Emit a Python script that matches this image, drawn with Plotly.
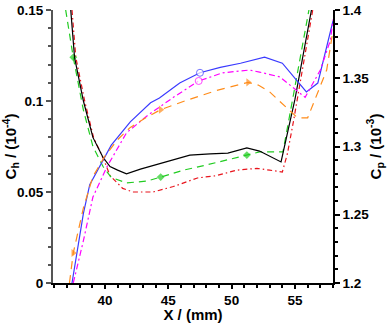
import plotly.graph_objects as go

# Ch (left axis, 10^-4)
x_black = [37.3, 37.6, 38.3, 39.05, 39.85, 40.4, 41.0, 41.7, 42.8, 44.3, 45.5, 46.7, 48.3, 49.7, 51.2, 52.2, 53.9, 55.0, 56.3]
ch_black = [0.150, 0.124, 0.100, 0.080, 0.069, 0.064, 0.062, 0.060, 0.0626, 0.0654, 0.068, 0.0703, 0.0709, 0.0714, 0.0742, 0.0725, 0.0665, 0.101, 0.150]

x_red = [37.4, 37.7, 38.4, 39.1, 39.9, 40.4, 41.4, 42.2, 43.8, 44.3, 45.4, 47.3, 48.8, 50.4, 52.0, 53.0, 54.0, 54.4, 54.9, 56.4]
ch_red = [0.150, 0.124, 0.100, 0.080, 0.068, 0.059, 0.052, 0.050, 0.050, 0.051, 0.053, 0.0577, 0.059, 0.062, 0.063, 0.062, 0.061, 0.071, 0.0896, 0.150]

x_green = [36.9, 37.5, 38.3, 39.05, 39.85, 40.5, 41.7, 43.3, 44.4, 46.2, 48.1, 49.9, 51.2, 52.2, 52.8, 54.05, 55.0, 56.1]
ch_green = [0.150, 0.124, 0.095, 0.075, 0.064, 0.058, 0.055, 0.056, 0.0582, 0.062, 0.065, 0.068, 0.0703, 0.072, 0.072, 0.072, 0.108, 0.150]
green_marks = [1, 8, 12]

# Cp (right axis, 10^-3)
x_blue = [37.4, 37.8, 38.3, 38.8, 39.85, 40.5, 42.0, 43.6, 44.3, 45.9, 47.5, 49.1, 50.7, 52.6, 54.0, 55.9, 56.8, 58.0]
cp_blue = [1.200, 1.222, 1.251, 1.272, 1.290, 1.301, 1.318, 1.332, 1.3355, 1.3465, 1.354, 1.358, 1.361, 1.3655, 1.361, 1.340, 1.3465, 1.392]
blue_marks = [10]

x_mag = [37.5, 38.3, 39.05, 40.15, 41.7, 43.4, 45.4, 47.4, 49.3, 51.4, 52.2, 53.8, 55.8, 57.0, 57.8, 58.0]
cp_mag = [1.200, 1.231, 1.263, 1.285, 1.310, 1.323, 1.336, 1.348, 1.354, 1.356, 1.3545, 1.351, 1.336, 1.356, 1.378, 1.393]
mag_marks = [7]

x_orange = [37.2, 37.5, 38.3, 39.05, 40.0, 41.0, 42.0, 43.4, 44.4, 46.5, 48.8, 51.3, 52.1, 53.0, 55.2, 56.0, 57.5, 58.0]
cp_orange = [1.200, 1.222, 1.255, 1.278, 1.293, 1.305, 1.314, 1.322, 1.327, 1.334, 1.341, 1.347, 1.345, 1.340, 1.321, 1.321, 1.356, 1.385]
orange_marks = [1, 8, 11]


def sizes(n, marks, s):
    return [s if i in marks else 0 for i in range(n)]


fig = go.Figure()

def add(x, y, color, dash, axis, marks=None, symbol=None, msize=6, open_=False):
    mode = "lines"
    marker = None
    if marks:
        mode = "lines+markers"
        marker = dict(symbol=symbol, size=sizes(len(x), marks, msize), color="white" if open_ else color,
                      line=dict(color=color, width=1 if open_ else 0))
    fig.add_trace(go.Scatter(x=x, y=y, mode=mode, yaxis=axis, line=dict(color=color, width=1.2, dash=dash),
                             marker=marker, showlegend=False, cliponaxis=True))

add(x_blue, cp_blue, "#3a3aff", "solid", "y2", blue_marks, "circle", 7, True)
add(x_mag, cp_mag, "#ff00ff", "6px,3px,2px,3px", "y2", mag_marks, "circle", 7, True)
add(x_orange, cp_orange, "#ff8c1a", "8px,6px", "y2", orange_marks, "triangle-right", 7)
add(x_red, ch_red, "#e8141c", "5px,3px,1.5px,3px", "y")
add(x_green, ch_green, "#22cc22", "7px,5px", "y", green_marks, "diamond", 6)
add(x_black, ch_black, "#000000", "solid", "y")

font = dict(family="Liberation Sans, Arial, sans-serif", size=13.5, color="black", weight="bold")
tfont = dict(family="Liberation Sans, Arial, sans-serif", size=15, color="black", weight="bold")

fig.update_layout(
    width=390, height=323,
    margin=dict(l=53, r=57, t=10, b=40),
    paper_bgcolor="white", plot_bgcolor="white",
    xaxis=dict(range=[35.9, 58.0], showgrid=False, zeroline=False, showline=True, linecolor="black", linewidth=1.5,
               automargin=False,
               ticks="outside", ticklen=4, tickwidth=1.5, tickcolor="black", tickvals=[40, 45, 50, 55],
               minor=dict(dtick=1, ticks="outside", ticklen=3, tickcolor="black", showgrid=False),
               tickfont=font, title=dict(text="X / (mm)", font=tfont, standoff=2)),
    yaxis=dict(range=[0, 0.15], showgrid=False, zeroline=False, showline=True, linecolor="#555", linewidth=2,
               automargin=False,
               ticks="outside", ticklen=5, tickwidth=1.5, tickcolor="#555", tickvals=[0, 0.05, 0.1, 0.15],
               minor=dict(dtick=0.01, ticks="outside", ticklen=3, tickcolor="#555", showgrid=False),
               tickfont=font, title=dict(text="C<sub>h</sub> / (10<sup>-4</sup>)", font=tfont, standoff=2)),
    yaxis2=dict(range=[1.2, 1.4], overlaying="y", side="right", showgrid=False, zeroline=False, showline=True,
                automargin=False,
                linecolor="black", linewidth=1.5, ticks="outside", ticklen=5, tickwidth=1.5, tickcolor="black",
                tickvals=[1.2, 1.25, 1.3, 1.35, 1.4],
                minor=dict(dtick=0.01, ticks="outside", ticklen=3, tickcolor="black", showgrid=False),
                tickfont=font, title=dict(text="C<sub>p</sub> / (10<sup>-3</sup>)", font=tfont, standoff=2)),
)

fig.write_html("out.html", config={"displayModeBar": False},
               post_script="document.body.style.margin='0';document.body.style.padding='0';")
